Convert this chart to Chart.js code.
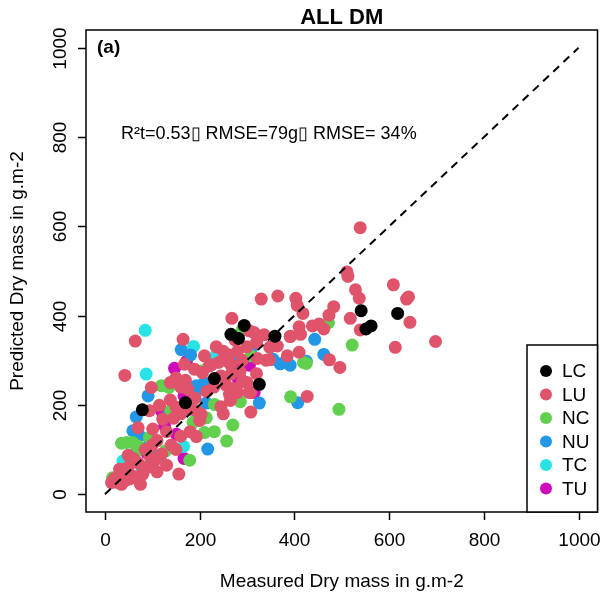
<!DOCTYPE html>
<html>
<head>
<meta charset="utf-8">
<script src="https://cdn.jsdelivr.net/npm/chart.js@4"></script>
<style>
  html, body { margin: 0; padding: 0; background: #fff; }
  #wrap { width: 604px; height: 600px; }
</style>
</head>
<body>
<div id="wrap"><canvas id="chart" width="604" height="600"></canvas></div>
<script>
// Data (measured, predicted) per group
const groups = ['LC', 'LU', 'NC', 'NU', 'TC', 'TU'];
const colors = ['#000000', '#DF536B', '#61D04F', '#2297E6', '#28E2E5', '#CD0BBC'];

const LC = [[79,189],[170,205],[231,259],[266,358],[282,349],[294,378],[359,354],[326,246],
  [541,411],[551,370],[562,377],[618,405]];

const LU = [[539,597],[511,498],[513,488],[609,469],[637,437],[641,442],[529,458],[537,439],
  [330,437],[365,444],[403,439],[406,423],[418,405],[483,420],[644,385],[518,394],[473,401],
  [539,368],[438,377],[452,381],[462,370],[410,375],[392,354],[305,366],[315,362],[336,357],
  [348,329],[364,332],[410,318],[613,329],[698,342],[474,301],[496,284],[385,310],[322,304],
  [347,301],[308,228],[308,184],[427,219],[268,394],[413,358],[391,353],
  [64,343],[42,266],[165,347],[168,291],[189,280],[206,272],[220,287],[98,239],[138,250],
  [94,187],[115,199],[138,211],[245,196],[193,129],[156,45],[14,26],[35,22],[52,34],
  [70,149],[101,146],[122,168],[49,87],[31,56],[49,60],[42,30],[28,26],[265,291],[266,269],
  [290,252],[304,228],[280,228],[263,224],[203,179],[193,187],
  [235,330],[250,320],[262,312],[255,300],[240,295],[225,290],[210,310],[280,320],[300,330],
  [290,300],[320,340],[275,345],[245,265],[230,240],[255,245],[270,237],[285,275],[320,270],
  [340,300],[300,250],[265,210],[250,180],[215,230],[190,215],[175,235],[160,240],[150,260],
  [170,255],[180,190],[160,180],[150,195],[145,170],[130,140],[110,120],[100,110],[85,100],
  [120,90],[140,110],[160,130],[150,100],[105,75],[90,60],[70,70],[60,40],[80,45],[130,65],
  [110,50],[200,165],[95,85],[60,80],[20,35],[45,45],[75,22],[180,140]];

const NC = [[16,37],[35,56],[69,37],[82,60],[35,114],[46,116],[58,116],[70,108],[66,95],
  [94,127],[128,97],[139,187],[186,161],[179,76],[210,138],[231,140],[257,119],[270,155],
  [214,171],[286,207],[231,201],[119,243],[135,239],[203,276],[290,368],[308,310],[419,295],
  [425,293],[392,218],[472,384],[522,334],[494,190]];

const NU = [[66,173],[59,142],[73,131],[88,105],[112,85],[77,63],[91,220],[161,324],[181,312],
  [135,179],[214,204],[217,101],[189,239],[203,243],[200,235],[193,243],[210,250],[273,305],
  [310,328],[355,302],[370,292],[391,289],[326,204],[407,205],[425,298],[443,347],[462,313]];

const TC = [[85,367],[87,269],[187,331],[233,308],[166,107],[38,74]];

const TU = [[147,282],[172,297],[126,153],[119,187],[151,134],[167,80],[88,93],[167,220],
  [301,291],[273,280],[280,261],[290,254],[305,289],[315,228]];

const seriesData = [LC, LU, NC, NU, TC, TU];
const oneToOne = [0, 1000];
const xTicks = [0, 200, 400, 600, 800, 1000];
const yTicks = [0, 200, 400, 600, 800, 1000];

const titleText = 'ALL DM';
const xTitle = 'Measured Dry mass in g.m-2';
const yTitle = 'Predicted Dry mass in g.m-2';
const panelLabel = '(a)';
const statsText = 'R\u00B2t=0.53\u25AF RMSE=79g\u25AF RMSE= 34%';

const FONT = '"Liberation Sans", Arial, sans-serif';

// R-style frame, ticks, titles, legend
const rFrame = {
  id: 'rFrame',
  afterDraw(chart) {
    const c = chart.ctx;
    const a = chart.chartArea;
    const xs = chart.scales.x, ys = chart.scales.y;
    c.save();
    c.strokeStyle = '#000';
    c.fillStyle = '#000';
    c.lineWidth = 1.5;
    c.strokeRect(a.left, a.top, a.right - a.left, a.bottom - a.top);

    // x ticks
    c.font = '19px ' + FONT;
    c.textAlign = 'center';
    c.textBaseline = 'middle';
    xTicks.forEach(v => {
      const px = Math.round(xs.getPixelForValue(v)) + 0.5;
      c.beginPath(); c.moveTo(px, a.bottom); c.lineTo(px, a.bottom + 8); c.stroke();
      c.fillText(String(v), px, a.bottom + 29);
    });
    // y ticks (rotated labels)
    yTicks.forEach(v => {
      const py = Math.round(ys.getPixelForValue(v)) + 0.5;
      c.beginPath(); c.moveTo(a.left, py); c.lineTo(a.left - 8, py); c.stroke();
      c.save();
      c.translate(a.left - 25, py);
      c.rotate(-Math.PI / 2);
      c.fillText(String(v), 0, 0);
      c.restore();
    });

    // titles
    c.font = 'bold 22px ' + FONT;
    c.fillText(titleText, (a.left + a.right) / 2, 18);
    c.font = '19px ' + FONT;
    c.fillText(xTitle, (a.left + a.right) / 2, 582);
    c.save();
    c.translate(18, (a.top + a.bottom) / 2);
    c.rotate(-Math.PI / 2);
    c.fillText(yTitle, 0, 0);
    c.restore();

    // panel label and stats
    c.textAlign = 'left';
    c.font = 'bold 19px ' + FONT;
    c.fillText(panelLabel, 97, 48);
    c.font = '18px ' + FONT;
    c.fillText(statsText, 121, 134);

    // legend
    const lx = 527, ly = 345, lw = a.right - lx, lh = a.bottom - ly;
    c.fillStyle = '#fff';
    c.fillRect(lx, ly, lw, lh);
    c.strokeRect(lx, ly, lw, lh);
    c.font = '19px ' + FONT;
    groups.forEach((g, i) => {
      const yy = 371 + i * 23.5;
      c.fillStyle = colors[i];
      c.beginPath(); c.arc(546, yy, 6, 0, Math.PI * 2); c.fill();
      c.fillStyle = '#000';
      c.fillText(g, 562, yy + 1);
    });
    c.restore();
  }
};

const datasets = groups.map((g, i) => ({
  type: 'scatter',
  label: g,
  data: seriesData[i].map(p => ({ x: p[0], y: p[1] })),
  backgroundColor: colors[i],
  borderWidth: 0,
  pointRadius: 6.5,
  order: 1
}));

datasets.push({
  type: 'line',
  label: '1:1',
  data: oneToOne.map(v => ({ x: v, y: v })),
  borderColor: '#000',
  borderWidth: 2,
  borderDash: [8, 6],
  pointRadius: 0,
  fill: false,
  order: 0
});

new Chart(document.getElementById('chart'), {
  data: { datasets },
  options: {
    responsive: false,
    animation: false,
    layout: { padding: { left: 86, right: 4, top: 30, bottom: 88 } },
    plugins: { legend: { display: false }, tooltip: { enabled: false } },
    scales: {
      x: { type: 'linear', min: -40, max: 1040, display: false },
      y: { type: 'linear', min: -40, max: 1040, display: false }
    }
  },
  plugins: [rFrame]
});
</script>
</body>
</html>
